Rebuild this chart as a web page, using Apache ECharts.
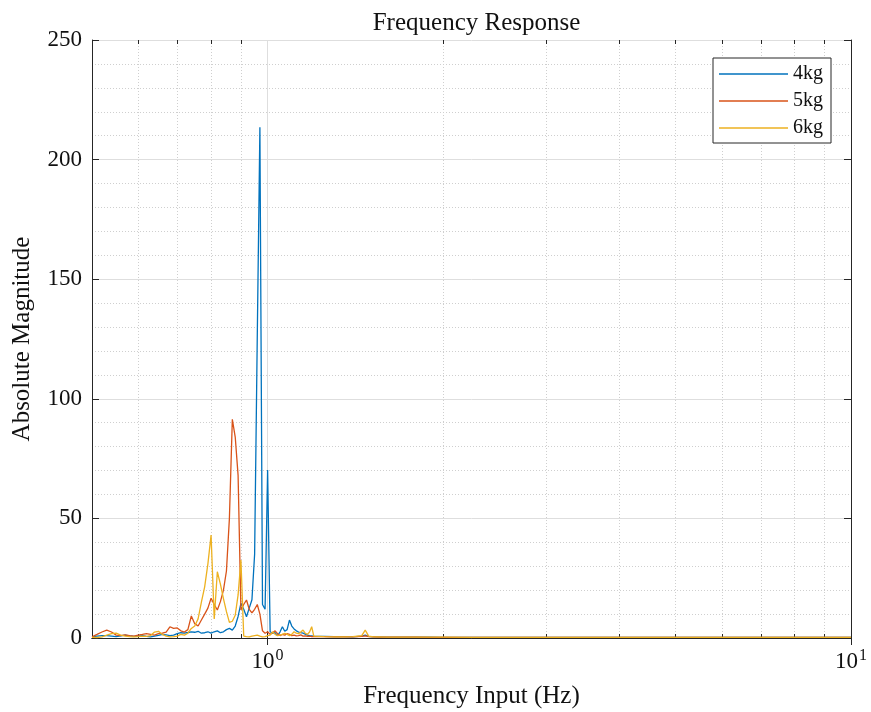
<!DOCTYPE html>
<html>
<head>
<meta charset="utf-8">
<title>Frequency Response</title>
<script src="https://cdn.jsdelivr.net/npm/echarts@6/dist/echarts.min.js"></script>
<style>
  html, body { margin: 0; padding: 0; background: #ffffff; }
  #chart { width: 871px; height: 712px; }
</style>
</head>
<body>
<div id="chart"></div>
<script>
// Frequency grid (Hz) shared by all three measurements
const freqs = [
  0.50, 0.51, 0.52, 0.53, 0.54, 0.55, 0.56, 0.57, 0.58, 0.59,
  0.60, 0.61, 0.62, 0.63, 0.64, 0.65, 0.66, 0.67, 0.68, 0.69,
  0.70, 0.71, 0.72, 0.73, 0.74, 0.75, 0.76, 0.77, 0.78, 0.79,
  0.80, 0.81, 0.82, 0.83, 0.84, 0.85, 0.86, 0.87, 0.88, 0.89,
  0.90, 0.91, 0.92, 0.93, 0.94, 0.95, 0.96, 0.97, 0.98, 0.99,
  1.00, 1.01, 1.02, 1.03, 1.04, 1.05, 1.06, 1.07, 1.08, 1.09,
  1.10, 1.11, 1.12, 1.13, 1.14, 1.15, 1.16, 1.17, 1.18, 1.19,
  1.20,
  1.25, 1.30, 1.35, 1.40, 1.45, 1.47, 1.49, 1.52, 1.55, 1.60,
  1.70, 1.80, 1.90, 2.00, 2.25, 2.50, 3.00, 3.50, 4.00, 5.00,
  6.00, 7.00, 8.00, 9.00, 10.00
];

// Absolute magnitude, 4 kg load
const mag4kg = [
  0.5, 0.8, 1.0, 1.0, 0.8, 0.6, 0.9, 1.2, 0.9, 0.7,
  0.8, 1.0, 0.7, 0.5, 0.8, 1.1, 1.5, 1.3, 1.0, 1.2,
  1.8, 2.2, 2.0, 2.3, 2.6, 2.4, 2.8, 2.0, 2.2, 2.6,
  2.0, 2.6, 3.0, 2.2, 2.6, 3.5, 4.0, 3.3, 5.0, 9.0,
  14.5, 12.0, 8.9, 12.5, 16.0, 35.0, 126.0, 213.5, 14.0, 12.0,
  70.2, 2.6, 2.0, 2.2, 1.0, 2.5, 4.7, 2.8, 3.5, 7.5,
  5.0, 3.8, 3.0, 2.5, 2.2, 2.0, 1.6, 1.2, 1.0, 0.9,
  0.8,
  0.7, 0.6, 0.6, 0.5, 0.8, 1.2, 0.7, 0.5, 0.5, 0.4,
  0.4, 0.4, 0.4, 0.3, 0.3, 0.3, 0.3, 0.3, 0.3, 0.3,
  0.3, 0.3, 0.3, 0.3, 0.3
];

// Absolute magnitude, 5 kg load
const mag5kg = [
  0.5, 1.5, 2.5, 3.3, 2.5, 1.2, 1.0, 1.3, 1.0, 0.8,
  1.2, 1.5, 1.8, 1.5, 1.2, 1.8, 2.0, 2.5, 4.7, 4.0,
  4.2, 3.0, 2.5, 3.5, 9.2, 6.0, 5.0, 7.5, 10.0, 12.5,
  16.6, 14.0, 11.7, 15.2, 20.0, 28.0, 50.0, 91.4, 84.0, 68.0,
  11.7, 14.0, 15.9, 12.0, 10.5, 12.0, 14.0, 10.0, 3.0, 2.0,
  2.6, 1.5, 2.2, 3.0, 1.8, 1.0, 1.5, 1.2, 1.8, 1.5,
  1.0, 1.2, 0.9, 1.0, 1.3, 0.8, 0.9, 0.7, 0.8, 0.6,
  0.6,
  0.6, 0.5, 0.5, 0.5, 0.7, 0.9, 0.6, 0.5, 0.4, 0.4,
  0.4, 0.4, 0.3, 0.3, 0.3, 0.3, 0.3, 0.3, 0.3, 0.3,
  0.3, 0.3, 0.3, 0.3, 0.3
];

// Absolute magnitude, 6 kg load
const mag6kg = [
  0.3, 0.2, 0.5, 1.2, 1.8, 2.0, 1.2, 0.8, 0.6, 0.5,
  0.6, 0.8, 0.7, 1.0, 2.5, 2.8, 1.5, 0.8, 0.5, 0.6,
  0.8, 1.5, 1.2, 2.0, 4.0, 5.0, 8.0, 15.0, 21.4, 31.0,
  43.0, 8.0, 27.7, 22.5, 16.5, 11.0, 6.5, 7.0, 9.5, 18.0,
  32.6, 0.8, 0.6, 0.5, 0.8, 1.0, 1.2, 0.8, 0.5, 0.6,
  1.0, 1.2, 2.6, 1.5, 1.0, 1.2, 1.5, 2.0, 1.5, 1.0,
  1.5, 2.6, 2.0, 1.8, 2.5, 3.3, 2.0, 1.5, 2.5, 4.7,
  0.8,
  0.6, 0.5, 0.5, 0.6, 1.0, 3.3, 0.8, 0.5, 0.5, 0.4,
  0.4, 0.4, 0.4, 0.4, 0.3, 0.3, 0.3, 0.3, 0.3, 0.3,
  0.3, 0.3, 0.3, 0.3, 0.3
];

const seriesNames = ['4kg', '5kg', '6kg'];
const seriesColors = ['#0072BD', '#D95319', '#EDB120'];

// Log-axis decade ticks and minor tick positions (Hz)
const decadeFreqs = [1, 10];
const minorFreqs = [0.6, 0.7, 0.8, 0.9, 2, 3, 4, 5, 6, 7, 8, 9];

// Y-axis range and tick step
const yMin = 0, yMax = 250, yStep = 50;

const FONT = 'Liberation Serif';
const INK = '#262626';

const chart = echarts.init(document.getElementById('chart'), null, { renderer: 'canvas' });

const lineSeries = [mag4kg, mag5kg, mag6kg].map((vals, k) => ({
  name: seriesNames[k],
  type: 'line',
  xAxisIndex: 0,
  yAxisIndex: 0,
  symbol: 'none',
  smooth: false,
  z: 3,
  lineStyle: { width: 1.3, color: seriesColors[k] },
  itemStyle: { color: seriesColors[k] },
  data: freqs.map((f, i) => [f, vals[i]])
}));

// Dotted minor grid lines and minor ticks for the logarithmic x axis
const minorGridSeries = {
  type: 'custom',
  xAxisIndex: 0,
  yAxisIndex: 0,
  silent: true,
  z: 1,
  data: minorFreqs.map(f => [f, yMin]),
  renderItem: function (params, api) {
    const v = api.value(0);
    const bot = api.coord([v, yMin]);
    const top = api.coord([v, yMax]);
    const x = Math.round(bot[0]) + 0.5;
    return {
      type: 'group',
      children: [
        { type: 'line', shape: { x1: x, y1: bot[1], x2: x, y2: top[1] },
          style: { stroke: '#cfcfcf', lineWidth: 1, lineDash: [1, 2] } },
        { type: 'line', shape: { x1: x, y1: bot[1], x2: x, y2: bot[1] - 4 },
          style: { stroke: INK, lineWidth: 1 } },
        { type: 'line', shape: { x1: x, y1: top[1], x2: x, y2: top[1] + 4 },
          style: { stroke: INK, lineWidth: 1 } }
      ]
    };
  }
};

const logAxisBase = {
  type: 'log',
  logBase: 10,
  min: 0.5,
  max: 10,
  axisLine: { show: true, lineStyle: { color: INK, width: 1 } },
  axisTick: { show: true, inside: true, length: 7, lineStyle: { color: INK }, customValues: decadeFreqs }
};

const option = {
  animation: false,
  backgroundColor: '#ffffff',
  textStyle: { fontFamily: FONT, color: INK },
  title: {
    text: 'Frequency Response',
    left: 471.5,
    textAlign: 'center',
    top: 6,
    textStyle: { fontFamily: FONT, fontSize: 25, fontWeight: 'normal', color: '#111111' }
  },
  grid: { left: 92, right: 20, top: 40, bottom: 74, containLabel: false, outerBoundsMode: 'none' },
  legend: {
    data: seriesNames,
    orient: 'vertical',
    left: 713,
    top: 58,
    icon: 'rect',
    itemWidth: 69,
    itemHeight: 1.5,
    itemGap: 7,
    padding: [6, 8, 5, 6],
    backgroundColor: '#ffffff',
    borderColor: INK,
    borderWidth: 1,
    borderRadius: 0,
    textStyle: { fontFamily: FONT, fontSize: 20, color: '#111111', lineHeight: 20 }
  },
  xAxis: [
    Object.assign({}, logAxisBase, {
      position: 'bottom',
      name: 'Frequency Input (Hz)',
      nameLocation: 'middle',
      nameGap: 46,
      nameTextStyle: { fontFamily: FONT, fontSize: 25, color: '#111111' },
      axisLabel: {
        margin: 10,
        color: '#111111',
        customValues: decadeFreqs,
        formatter: function (v) {
          return '{b|10}{s|' + Math.round(Math.log10(v)) + '}';
        },
        rich: {
          b: { fontFamily: FONT, fontSize: 23, color: '#111111' },
          s: { fontFamily: FONT, fontSize: 16, color: '#111111', padding: [0, 0, 12, 1] }
        }
      },
      splitLine: { show: true, lineStyle: { color: '#dedede', width: 1 } }
    }),
    Object.assign({}, logAxisBase, {
      position: 'top',
      axisLabel: { show: false },
      splitLine: { show: false }
    })
  ],
  yAxis: [
    {
      type: 'value',
      min: yMin,
      max: yMax,
      interval: yStep,
      position: 'left',
      name: 'Absolute Magnitude',
      nameLocation: 'middle',
      nameGap: 57,
      nameTextStyle: { fontFamily: FONT, fontSize: 25, color: '#111111' },
      axisLine: { show: true, lineStyle: { color: INK, width: 1 } },
      axisTick: { show: true, inside: true, length: 7, lineStyle: { color: INK } },
      axisLabel: { fontFamily: FONT, fontSize: 23, color: '#111111', margin: 10 },
      splitLine: { show: true, lineStyle: { color: '#dedede', width: 1 } },
      minorTick: { show: false, splitNumber: 5 },
      minorSplitLine: { show: true, lineStyle: { color: '#cfcfcf', width: 1, type: [1, 2] } }
    },
    {
      type: 'value',
      min: yMin,
      max: yMax,
      interval: yStep,
      position: 'right',
      axisLine: { show: true, lineStyle: { color: INK, width: 1 } },
      axisTick: { show: true, inside: true, length: 7, lineStyle: { color: INK } },
      axisLabel: { show: false },
      splitLine: { show: false }
    }
  ],
  series: [minorGridSeries].concat(lineSeries)
};

chart.setOption(option);
</script>
</body>
</html>
